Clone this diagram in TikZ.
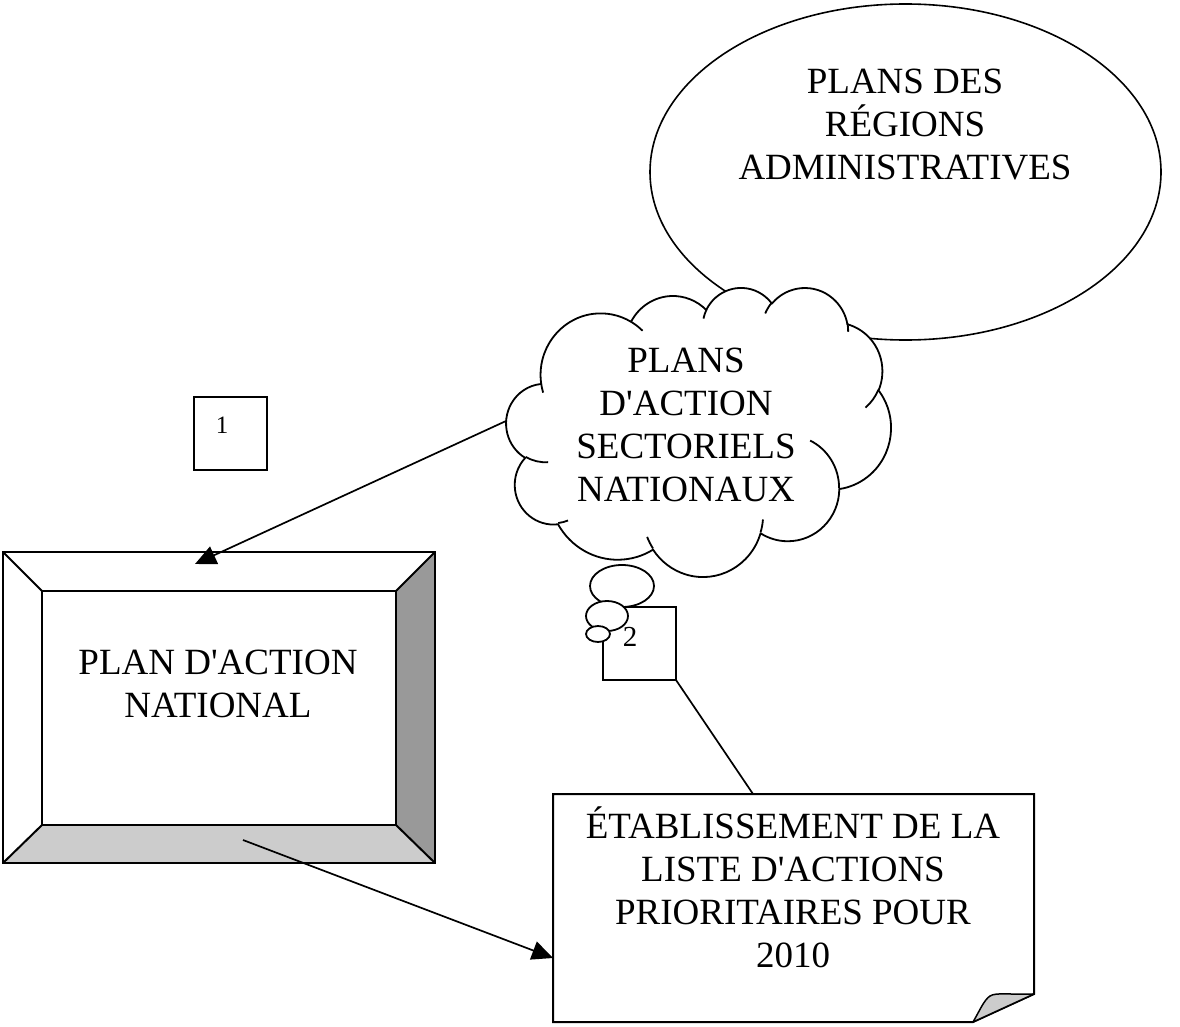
\documentclass[tikz,border=0pt]{standalone}
\usepackage{fontspec}
\setmainfont{Liberation Serif}[Ligatures=TeXOff]
\usetikzlibrary{arrows.meta,shapes.geometric}
\begin{document}
\begin{tikzpicture}[x=1pt,y=-1pt,
  txt/.style={inner sep=0pt, outer sep=0pt, align=center, font=\fontsize{37}{43}\selectfont},
  numbox/.style={draw, line width=2pt, minimum width=73pt, minimum height=73pt, inner sep=0pt, outer sep=0pt},
  bubble/.style={draw, ellipse, fill=white, line width=1.8pt, inner sep=0pt, outer sep=0pt},
  cloudline/.style={line width=1.8pt, line join=round},
  bevel/.style={line width=2pt, line join=miter},
  conn/.style={line width=1.7pt},
  arr/.style={conn, -{Triangle[length=21pt,width=19pt]}}
]
\useasboundingbox (0,0) rectangle (1180,1027);
\fill[white] (0,0) rectangle (1180,1027);

% ellipse of the administrative regions
\node[draw, ellipse, line width=1.6pt, minimum width=511pt, minimum height=336pt, inner sep=0pt] (reg) at (905.5,172) {};
\node[txt, anchor=south] (regtxt) at (905,180) {PLANS DES\\RÉGIONS\\ADMINISTRATIVES};

% cloud (sectoral plans)
\begin{scope}[shift={(506.4pt,-287pt)}, x=0.890pt, y=-0.669pt]
\draw[cloudline, fill=white] (39.00,143.70)
 arc[start angle=172.25, end angle=300.36, x radius=67.53, y radius=91.90]
 arc[start angle=-152.02, end angle=-45.45, x radius=53.33, y radius=72.67]
 arc[start angle=-153.49, end angle=-37.32, x radius=43.65, y radius=59.45]
 arc[start angle=-139.72, end angle=-10.22, x radius=48.57, y radius=65.95]
 arc[start angle=-74.77, end angle=23.21, x radius=53.33, y radius=72.73]
 arc[start angle=-37.52, end angle=81.86, x radius=67.75, y radius=92.20]
 arc[start angle=0.46, end angle=121.98, x radius=57.85, y radius=78.67]
 arc[start angle=16.84, end angle=146.24, x radius=67.52, y radius=92.15]
 arc[start angle=58.98, end angle=150.20, x radius=77.20, y radius=105.43]
 arc[start angle=83.31, end angle=223.12, x radius=43.60, y radius=59.18]
 arc[start angle=120.34, end angle=264.11, x radius=43.45, y radius=59.45]
 -- cycle;
\draw[cloudline]
 (46.93,261.77) arc[start angle=85.54, end angle=120.34, x radius=43.45, y radius=59.45]
 (69.28,348.99) arc[start angle=68.23, end angle=83.31, x radius=43.60, y radius=59.18]
 (164.78,390.90) arc[start angle=146.24, end angle=158.47, x radius=67.52, y radius=92.15]
 (288.27,347.51) arc[start angle=4.73, end angle=16.84, x radius=67.52, y radius=92.15]
 (341.29,229.54) arc[start angle=-64.03, end angle=0.46, x radius=57.85, y radius=78.67]
 (417.98,153.54) arc[start angle=23.21, end angle=49.64, x radius=53.33, y radius=72.73]
 (383.24,54.26) arc[start angle=-10.22, end angle=0.82, x radius=48.57, y radius=65.95]
 (290.78,39.52) arc[start angle=-156.30, end angle=-139.72, x radius=48.57, y radius=65.95]
 (221.41,47.20) arc[start angle=-167.72, end angle=-153.49, x radius=43.65, y radius=59.45]
 (140.05,52.00) arc[start angle=-59.64, end angle=-45.74, x radius=67.53, y radius=91.90]
 (41.27,157.89) arc[start angle=163.19, end angle=172.25, x radius=67.53, y radius=91.90];
\end{scope}
\node[txt, anchor=south] (sectxt) at (686,502) {PLANS\\D'ACTION\\SECTORIELS\\NATIONAUX};

% numbered boxes
\node[numbox] (box1) at (230.5,433.5) {};
\node[inner sep=0pt, anchor=base, font=\fontsize{25}{28}\selectfont] (num1) at (222,433) {1};
\node[numbox] (box2) at (639.5,643.5) {};
\node[inner sep=0pt, anchor=base, font=\fontsize{29}{34}\selectfont] (num2) at (630,646) {2};

% thought bubbles
\node[bubble, minimum width=64pt, minimum height=42pt] (bub1) at (622,586) {};
\node[bubble, minimum width=42pt, minimum height=30pt] (bub2) at (607,616) {};
\node[bubble, minimum width=24pt, minimum height=16pt] (bub3) at (598,634) {};

% bevelled box: national action plan
\fill[white] (3,552) rectangle (435,863);
\fill[black!40] (435,552) -- (435,863) -- (396,825) -- (396,591) -- cycle;
\fill[black!20] (3,863) -- (435,863) -- (396,825) -- (42,825) -- cycle;
\draw[bevel] (3,552) rectangle (435,863);
\draw[bevel] (42,591) rectangle (396,825);
\draw[bevel] (3,552) -- (42,591) (435,552) -- (396,591) (435,863) -- (396,825) (3,863) -- (42,825);
\node[txt, anchor=south] (nattxt) at (218,718) {PLAN D'ACTION\\NATIONAL};

% note with folded corner
\node[inner sep=0pt, outer sep=0pt, minimum width=481pt, minimum height=228pt] (note) at (793.5,908) {};
\draw[line width=2pt, line join=miter, fill=white] (note.north west) -- (note.north east) -- ([yshift=28pt]note.south east) -- ([xshift=-61pt]note.south east) -- (note.south west) -- cycle;
\draw[line width=1.5pt, fill=black!20, line join=round] ([xshift=-61pt]note.south east) .. controls (980,1010) and (984,1000) .. (990,996) .. controls (996,992) and (1012,995) .. ([yshift=28pt]note.south east) -- cycle;
\node[txt, anchor=south] (notetxt) at (793,968) {ÉTABLISSEMENT DE LA\\LISTE D'ACTIONS\\PRIORITAIRES POUR\\2010};

% connectors
\coordinate (cloudW) at (506,421);
\coordinate (natIn) at (195,564);
\coordinate (natOut) at (243,840);
\coordinate (noteIn) at (553,958);
\coordinate (noteTop) at (753,794);
\draw[arr] (cloudW) -- (natIn);
\draw[arr] (natOut) -- (noteIn);
\draw[conn] (box2.south east) -- (noteTop);
\end{tikzpicture}
\end{document}
